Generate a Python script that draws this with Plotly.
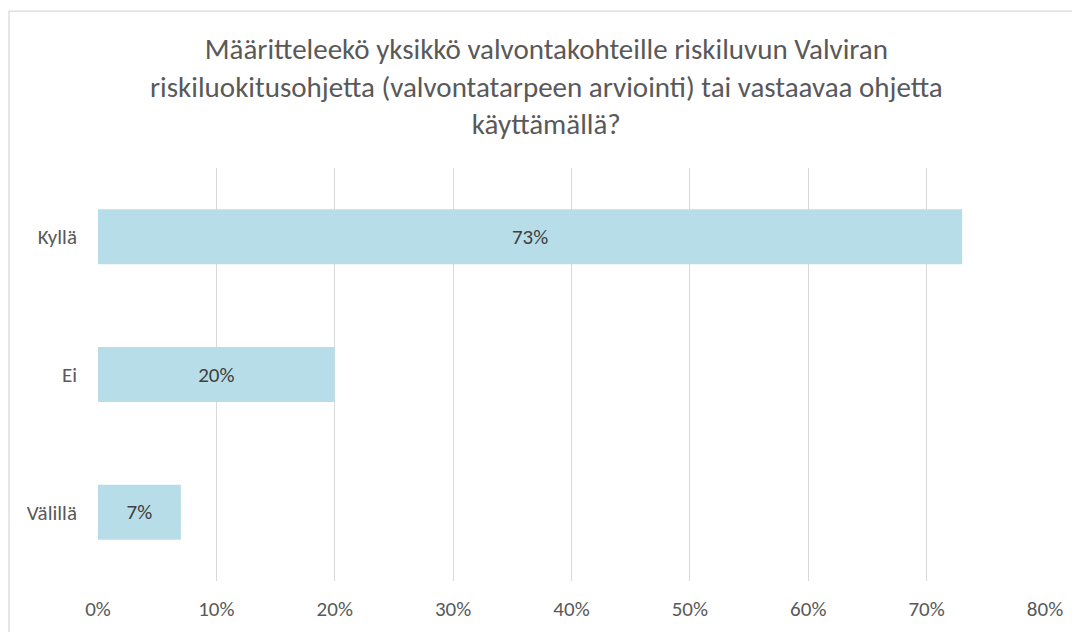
import plotly.graph_objects as go

categories = ["Kyllä", "Ei", "Välillä"]
values = [0.73, 0.20, 0.07]
labels = ["73%", "20%", "7%"]
tick_vals = [0, 0.1, 0.2, 0.3, 0.4, 0.5, 0.6, 0.7, 0.8]
tick_text = ["0%", "10%", "20%", "30%", "40%", "50%", "60%", "70%", "80%"]
title = ("Määritteleekö yksikkö valvontakohteille riskiluvun Valviran<br>"
         "riskiluokitusohjetta (valvontatarpeen arviointi) tai vastaavaa ohjetta<br>"
         "käyttämällä?")

FONT = "Carlito, Lato, sans-serif"
GREY = "#595959"

fig = go.Figure(go.Bar(
    y=categories, x=values, orientation="h",
    marker=dict(color="#B7DDE8", line=dict(width=0)),
    width=0.4,
    text=labels, textposition="inside", insidetextanchor="middle",
    textfont=dict(family=FONT, size=21, color="#404040"),
))

# page has an 8px body margin; figure coordinates are offset by it
W, H = 1072, 624
L, R, T, B = 90, 35, 160, 50.5
pw, ph = W - L - R, H - T - B

fig.update_layout(
    width=W, height=H,
    margin=dict(l=L, r=R, t=T, b=B, autoexpand=False),
    paper_bgcolor="white", plot_bgcolor="white",
    showlegend=False,
    xaxis=dict(range=[0, 0.8], tickvals=tick_vals, ticktext=tick_text,
               showgrid=True, gridcolor="#D9D9D9", gridwidth=1.3,
               zeroline=False, showline=False, ticks="",
               tickfont=dict(family=FONT, size=21, color=GREY),
               ticklabelstandoff=13),
    yaxis=dict(autorange="reversed", showgrid=False, zeroline=False,
               showline=False, ticks="", ticklabelstandoff=20,
               tickfont=dict(family=FONT, size=21, color=GREY)),
    annotations=[dict(text=title, xref="paper", yref="paper",
                      x=0.5 + (W / 2 - L - pw / 2 + 2) / pw,
                      y=1 + (T - 78) / ph,
                      xanchor="center", yanchor="middle", showarrow=False,
                      align="center",
                      font=dict(family=FONT, size=29, color=GREY))],
    shapes=[dict(type="rect", xref="paper", yref="paper",
                 x0=(1 - L) / pw, x1=(W + 5 - L) / pw,
                 y0=-(B + 5) / ph, y1=1 + (T - 3) / ph,
                 line=dict(color="#D9D9D9", width=1.3),
                 fillcolor="rgba(0,0,0,0)", layer="below")],
    bargap=0.6,
)

fig.write_html("out.html")
